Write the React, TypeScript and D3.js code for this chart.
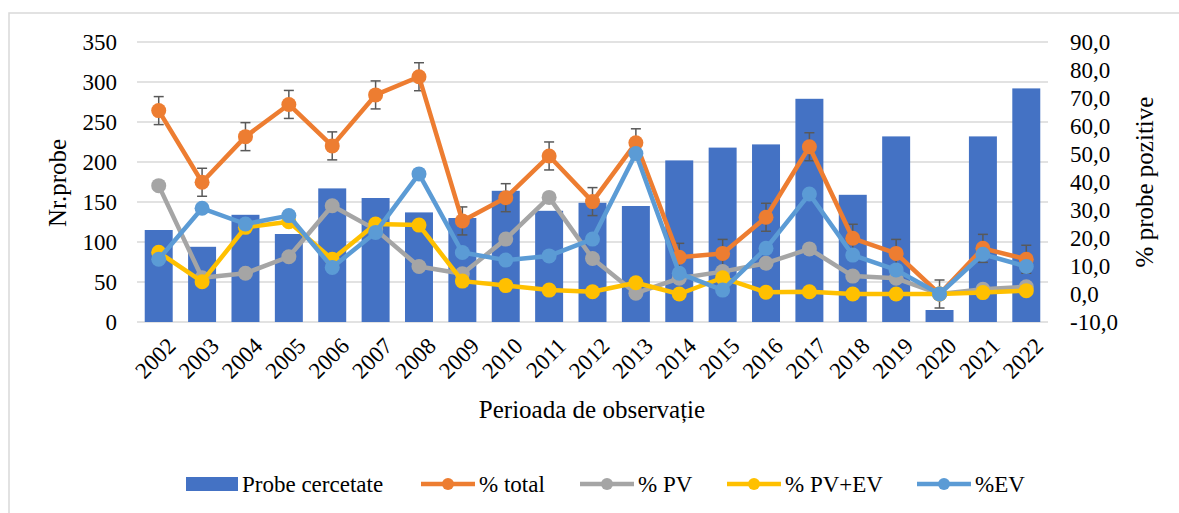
import React from "react";
import * as d3 from "d3";

const years = ["2002","2003","2004","2005","2006","2007","2008","2009","2010","2011","2012","2013","2014","2015","2016","2017","2018","2019","2020","2021","2022"];
const probe = [115, 94, 134, 110, 167, 155, 137, 130, 164, 139, 149, 145, 202, 218, 222, 279, 159, 232, 15, 232, 292];
const pctTotal = [65.5, 39.9, 56.2, 67.7, 52.9, 71.1, 77.6, 26.1, 34.4, 49.3, 33.0, 54.0, 13.1, 14.5, 27.4, 52.6, 19.9, 14.5, 0.0, 16.3, 12.4];
const pctPV = [38.7, 5.8, 7.4, 13.3, 31.5, 23.0, 9.8, 7.2, 19.6, 34.5, 12.7, 0.3, 5.6, 8.0, 11.0, 16.1, 6.4, 5.6, 0.0, 1.7, 2.6];
const pctPVEV = [14.9, 4.4, 23.8, 25.8, 12.4, 25.0, 24.6, 4.6, 3.0, 1.4, 0.8, 4.0, 0.0, 5.8, 0.6, 0.8, 0.0, 0.0, 0.0, 0.5, 1.2];
const pctEV = [12.4, 30.6, 25.0, 28.0, 9.5, 22.0, 42.9, 14.8, 12.1, 13.6, 19.6, 50.2, 7.4, 1.4, 16.3, 35.7, 13.9, 8.6, 0.0, 14.2, 9.8];
const errTotal = 5;
const leftTicks = [0, 50, 100, 150, 200, 250, 300, 350];
const rightTicks = [-10, 0, 10, 20, 30, 40, 50, 60, 70, 80, 90];

const lineSeries = [
  { name: "% total", values: pctTotal, color: "#ED7D31" },
  { name: "% PV", values: pctPV, color: "#A5A5A5" },
  { name: "% PV+EV", values: pctPVEV, color: "#FFC000" },
  { name: "%EV", values: pctEV, color: "#5B9BD5" },
];

const W = 1179, H = 513;
const FONT = "'Liberation Serif', 'Times New Roman', serif";

export default function App() {
  const x = d3.scaleBand<string>().domain(years).range([137, 1048]).paddingInner(0.355).paddingOuter(0.178);
  const yL = d3.scaleLinear().domain([0, 350]).range([322, 42]);
  const yR = d3.scaleLinear().domain([-10, 90]).range([322, 42]);
  const cx = (i: number) => (x(years[i]) as number) + x.bandwidth() / 2;
  const line = d3.line<number>().x((_, i) => cx(i)).y((v) => yR(v));

  const legendItems = [
    { type: "bar", label: "Probe cercetate", color: "#4472C4", x0: 186 },
    { type: "line", label: "% total", color: "#ED7D31", x0: 421 },
    { type: "line", label: "% PV", color: "#A5A5A5", x0: 580 },
    { type: "line", label: "% PV+EV", color: "#FFC000", x0: 727 },
    { type: "line", label: "%EV", color: "#5B9BD5", x0: 917 },
  ];
  const ly = 484;

  return (
    <svg width={W} height={H} style={{ position: "absolute", left: 0, top: 0, background: "#fff" }} fontFamily={FONT}>
      <rect x={9} y={13} width={W + 20} height={H + 20} fill="#fff" stroke="#d9d9d9" strokeWidth={1.5} />
      {leftTicks.map((t) => (
        <line key={"g" + t} x1={137} x2={1048} y1={yL(t)} y2={yL(t)} stroke="#d9d9d9" strokeWidth={1.5} />
      ))}
      {leftTicks.map((t) => (
        <text key={"l" + t} x={117} y={yL(t)} dy="0.35em" textAnchor="end" fontSize={23} fill="#000">{t}</text>
      ))}
      {rightTicks.map((t) => (
        <text key={"r" + t} x={1070} y={yR(t)} dy="0.35em" textAnchor="start" fontSize={23} fill="#000">{t.toFixed(1).replace(".", ",")}</text>
      ))}
      {probe.map((v, i) => (
        <rect key={"b" + i} x={x(years[i])} y={yL(v)} width={x.bandwidth()} height={yL(0) - yL(v)} fill="#4472C4" />
      ))}
      {years.map((yv, i) => (
        <text key={"x" + yv} transform={`translate(${cx(i) + 7},${336}) rotate(-45)`} textAnchor="end" dy="0.7em" fontSize={23} fill="#000">{yv}</text>
      ))}
      {pctTotal.map((v, i) => (
        <g key={"e" + i} stroke="#595959" strokeWidth={1.5}>
          <line x1={cx(i)} x2={cx(i)} y1={yR(v + errTotal)} y2={yR(v - errTotal)} />
          <line x1={cx(i) - 5} x2={cx(i) + 5} y1={yR(v + errTotal)} y2={yR(v + errTotal)} />
          <line x1={cx(i) - 5} x2={cx(i) + 5} y1={yR(v - errTotal)} y2={yR(v - errTotal)} />
        </g>
      ))}
      {lineSeries.map((s) => (
        <g key={s.name}>
          <path d={line(s.values) as string} fill="none" stroke={s.color} strokeWidth={4.5} strokeLinejoin="round" />
          {s.values.map((v, i) => (
            <circle key={i} cx={cx(i)} cy={yR(v)} r={7.5} fill={s.color} />
          ))}
        </g>
      ))}
      <text transform={`translate(66,183) rotate(-90)`} textAnchor="middle" fontSize={25} fill="#000">Nr.probe</text>
      <text transform={`translate(1153,182) rotate(-90)`} textAnchor="middle" fontSize={25} fill="#000">% probe pozitive</text>
      <text x={592} y={418} textAnchor="middle" fontSize={25} fill="#000">Perioada de observație</text>
      {legendItems.map((it) => (
        <g key={it.label}>
          {it.type === "bar" ? (
            <rect x={it.x0} y={ly - 7} width={52} height={14} fill={it.color} />
          ) : (
            <g>
              <line x1={it.x0} x2={it.x0 + 54} y1={ly} y2={ly} stroke={it.color} strokeWidth={4.5} />
              <circle cx={it.x0 + 27} cy={ly} r={6} fill={it.color} />
            </g>
          )}
          <text x={it.x0 + (it.type === "bar" ? 56 : 58)} y={ly} dy="0.35em" fontSize={23} fill="#000">{it.label}</text>
        </g>
      ))}
    </svg>
  );
}
